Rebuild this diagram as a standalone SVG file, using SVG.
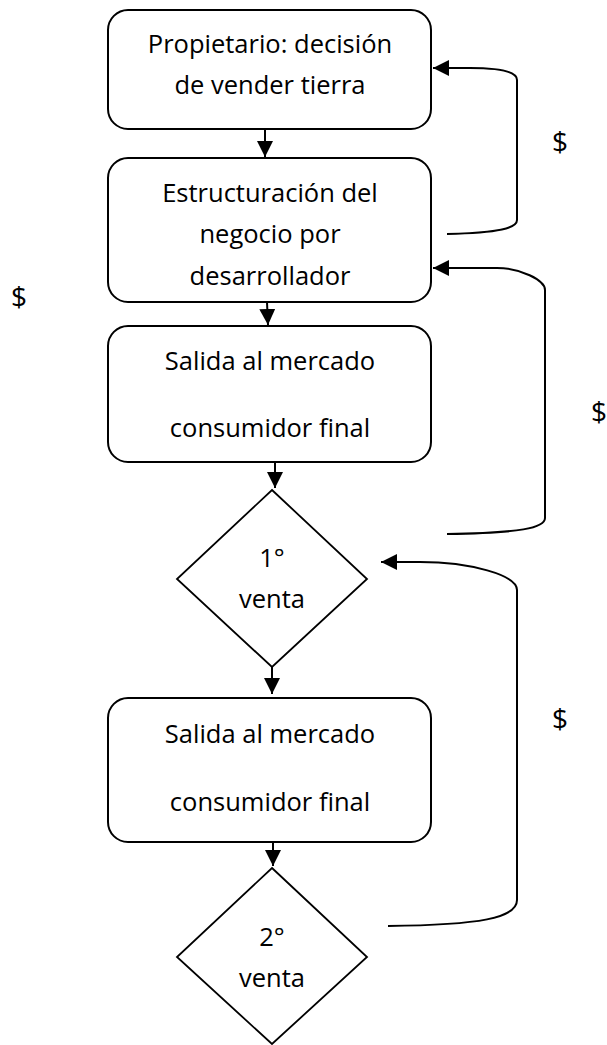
<svg xmlns="http://www.w3.org/2000/svg" width="607" height="1045" viewBox="0 0 607 1045">
<style>
.box{fill:#fff;stroke:#000;stroke-width:2}
.dia{fill:#fff;stroke:#000;stroke-width:1.8}
.t{font-family:"Open Sans","Liberation Sans",sans-serif;font-size:25.5px;fill:#000;text-anchor:middle}
.d{font-family:"Open Sans","Liberation Sans",sans-serif;font-size:28px;fill:#000;text-anchor:middle}
.c{fill:none;stroke:#000;stroke-width:2}
</style>
<defs>
<marker id="ah" markerUnits="userSpaceOnUse" markerWidth="18" markerHeight="16" refX="16" refY="8" orient="auto">
<path d="M0,0 L16,8 L0,16 Z" fill="#000"/>
</marker>
</defs>
<rect width="607" height="1045" fill="#fff"/>
<g id="connectors">
<path class="c" d="M265,129 L265,157" marker-end="url(#ah)"/>
<path class="c" d="M267,302 L268,325" marker-end="url(#ah)"/>
<path class="c" d="M275,462 L275,488" marker-end="url(#ah)"/>
<path class="c" d="M272,667 L272,694" marker-end="url(#ah)"/>
<path class="c" d="M273,842 L273,866" marker-end="url(#ah)"/>
<path class="c" d="M447,234 C500,233 517,228 517,220 L517,80 C517,72 500,68 470,68 L433,68" marker-end="url(#ah)"/>
<path class="c" d="M447,534 C520,533 545,528 545,518 L545,290 C545,280 520,268 497,268 L433,268" marker-end="url(#ah)"/>
<path class="c" d="M388,926 C480,925 517,918 517,900 L517,590 C517,575 470,562 420,562 L381,562" marker-end="url(#ah)"/>
<text class="d" x="19" y="307">$</text>
<text class="d" x="560" y="152">$</text>
<text class="d" x="599" y="422">$</text>
<text class="d" x="560" y="729">$</text>
</g>
<g id="n1">
<rect class="box" x="108" y="10" width="323" height="119" rx="20"/>
<text class="t" x="270" y="53">Propietario: decisión</text>
<text class="t" x="270" y="94">de vender tierra</text>
</g>
<g id="n2">
<rect class="box" x="108" y="158" width="323" height="144" rx="20"/>
<text class="t" x="270" y="202">Estructuración del</text>
<text class="t" x="270" y="243">negocio por</text>
<text class="t" x="270" y="285">desarrollador</text>
</g>
<g id="n3">
<rect class="box" x="108" y="326" width="323" height="136" rx="20"/>
<text class="t" x="270" y="370">Salida al mercado</text>
<text class="t" x="270" y="437">consumidor final</text>
</g>
<g id="n4">
<polygon class="dia" points="272,490 367,579 272,667 177,579"/>
<text class="t" x="272" y="567">1°</text>
<text class="t" x="272" y="608">venta</text>
</g>
<g id="n5">
<rect class="box" x="108" y="698" width="323" height="144" rx="20"/>
<text class="t" x="270" y="743">Salida al mercado</text>
<text class="t" x="270" y="811">consumidor final</text>
</g>
<g id="n6">
<polygon class="dia" points="272,868 367,957 272,1044 177,957"/>
<text class="t" x="272" y="946">2°</text>
<text class="t" x="272" y="987">venta</text>
</g>
</svg>
